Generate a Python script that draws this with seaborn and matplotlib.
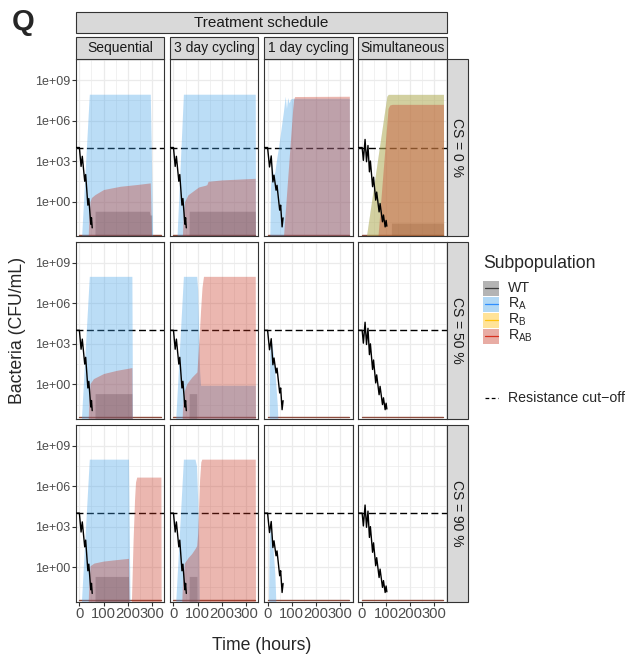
import numpy as np
import pandas as pd
import seaborn as sns
import matplotlib.pyplot as plt
from matplotlib.patches import Rectangle
from matplotlib.ticker import NullFormatter

# ---- data: ribbons as (time h, log10 upper edge); every ribbon starts from the floor
FLOOR = -4.0
BOTTOM_LINE = -2.45
T_END = 338
CUTOFF = 1e4

schedules = ["Sequential", "3 day cycling", "1 day cycling", "Simultaneous"]
cs_levels = ["CS = 0 %", "CS = 50 %", "CS = 90 %"]
pops = ["WT", "RA", "RB", "RAB"]
pop_labels = ["WT", r"R$_\mathregular{A}$", r"R$_\mathregular{B}$", r"R$_\mathregular{AB}$"]

# CS = 0 %
seq0_wt = [(64, -4), (65, -0.72), (289, -0.72), (292, -1.0), (299, -1.0), (300, -4)]
seq0_ra = [(5, -4), (41, 7.95), (293, 7.95), (297, 4.0), (304, -4)]
seq0_rab = [(34, -4), (39, -1.2), (44, 0.0), (50, 0.3), (65, 0.52), (100, 0.89),
            (169, 1.13), (238, 1.26), (293, 1.38), (300, -4)]
d3_0_wt = [(64, -4), (65, -0.72), (338, -0.72), (339, -4)]
d3_0_ra = [(11, -4), (41, 7.95), (338, 7.95), (339, -4)]
d3_0_rab = [(34, -4), (40, -1.0), (46, 0.0), (60, 0.5), (104, 1.08), (131, 1.2),
            (138, 1.25), (143, 1.5), (200, 1.6), (338, 1.72), (339, -4)]
d1_0_ra = [(8, -4), (12, 1.0), (18, 2.8), (24, 1.9), (30, 2.2), (36, 3.0), (45, 4.0),
           (55, 5.3), (65, 6.6), (73, 7.8), (78, 6.9), (83, 7.7), (89, 7.3), (95, 7.6),
           (105, 7.65), (338, 7.65), (339, -4)]
d1_0_rab = [(60, -4), (104, 6.9), (108, 7.6), (112, 7.78), (338, 7.8), (339, -4)]
sim0_wt = [(122, -4), (123, -1.6), (338, -1.6), (339, -4)]
sim0_ra = [(8, -4), (104, 7.8), (110, 7.94), (338, 7.94), (339, -4)]
sim0_rb = [(8, -4), (104, 7.8), (110, 7.94), (338, 7.94), (339, -4)]
sim0_rab = [(61, -4), (109, 6.9), (116, 7.15), (126, 7.2), (338, 7.2), (339, -4)]

# CS = 50 %
seq50_wt = [(64, -4), (65, -0.69), (217, -0.69), (218, -4)]
seq50_ra = [(4, -4), (41, 8.0), (217, 8.0), (220, -4)]
seq50_rab = [(34, -4), (39, -1.2), (44, 0.05), (58, 0.42), (100, 0.8), (155, 1.04),
             (217, 1.24), (219, -4)]
d3_50_wt = [(64, -4), (65, -0.69), (96, -0.69), (97, -4)]
d3_50_ra = [(5, -4), (41, 8.0), (96, 8.0), (100, 7.0), (104, 4.0), (108, 1.0),
            (112, -0.07), (338, -0.07), (339, -4)]
d3_50_rab = [(33, -4), (38, -1.5), (44, -0.5), (55, 0.05), (76, 0.54), (97, 0.92),
             (100, 1.8), (106, 3.5), (112, 5.5), (118, 7.2), (124, 8.0), (338, 8.0), (339, -4)]
d1_50_ra = [(6, -4), (9, 2.5), (13, 3.3), (18, 3.0), (25, 2.0), (32, 0.5), (40, -1.5), (46, -4)]

# CS = 90 %
seq90_wt = [(64, -4), (65, -0.69), (203, -0.69), (204, -4)]
seq90_ra = [(4, -4), (41, 8.0), (203, 8.0), (210, -4)]
seq90_rab = [(34, -4), (39, -1.2), (44, 0.1), (60, 0.3), (100, 0.45), (150, 0.55),
             (203, 0.65), (207, -4), (213, -4), (222, 2.0), (228, 5.0), (232, 6.3),
             (237, 6.67), (337, 6.67), (338, -4)]
d3_90_wt = [(64, -4), (65, -0.69), (97, -0.69), (98, -4)]
d3_90_ra = [(5, -4), (41, 8.0), (89, 8.0), (95, 7.5), (100, 5.0), (104, 2.0), (108, -4)]
d3_90_rab = [(31, -4), (37, -1.3), (45, 0.3), (60, 0.7), (75, 1.0), (89, 1.37), (96, 1.6),
             (100, 2.5), (104, 4.5), (108, 6.5), (113, 7.8), (117, 8.0), (338, 8.0), (339, -4)]
d1_90_ra = [(3, -4), (7, 2.0), (10, 3.0), (15, 2.8), (22, 1.5), (30, -0.5), (37, -4)]

# WT trajectories (time h, log10 CFU/mL)
wt_seq_line = [(-14, 4), (0, 4), (7, 2.6), (12, 3.35), (22, 1.5), (26, 2.0), (35, -0.27),
               (39, 0.22), (47, -1.68), (50, -1.2), (53, -1.95)]
wt_1day_line = [(-14, 4), (0, 4), (8, 2.56), (15, 3.38), (22, 1.45), (26.5, 1.95), (35, 0.84),
                (39, 1.2), (50, -0.64), (54, -0.27), (60, -1.88), (64, -1.21)]
wt_sim_line = [(-14, 4), (2, 4), (7, 3.05), (14, 4.6), (20, 2.95), (26, 4.15), (32, 2.2),
               (36, 3.0), (45, 1.1), (49, 1.8), (58, 0.1), (62, 0.7), (72, -0.77), (76, -0.15),
               (86, -1.5), (90, -1.0), (97, -1.88), (101, -1.4), (104, -1.83)]

panels = {
    (0, 0): {"WT": seq0_wt, "RA": seq0_ra, "RAB": seq0_rab},
    (0, 1): {"WT": d3_0_wt, "RA": d3_0_ra, "RAB": d3_0_rab},
    (0, 2): {"RA": d1_0_ra, "RAB": d1_0_rab},
    (0, 3): {"WT": sim0_wt, "RA": sim0_ra, "RB": sim0_rb, "RAB": sim0_rab},
    (1, 0): {"WT": seq50_wt, "RA": seq50_ra, "RAB": seq50_rab},
    (1, 1): {"WT": d3_50_wt, "RA": d3_50_ra, "RAB": d3_50_rab},
    (1, 2): {"RA": d1_50_ra},
    (1, 3): {},
    (2, 0): {"WT": seq90_wt, "RA": seq90_ra, "RAB": seq90_rab},
    (2, 1): {"WT": d3_90_wt, "RA": d3_90_ra, "RAB": d3_90_rab},
    (2, 2): {"RA": d1_90_ra},
    (2, 3): {},
}
wt_lines = [wt_seq_line, wt_seq_line, wt_1day_line, wt_sim_line]

fill = {"WT": "#2A2A2A", "RA": "#3D9EE8", "RB": "#FFB900", "RAB": "#C6311D"}
alpha = {"WT": 0.3, "RA": 0.35, "RB": 0.35, "RAB": 0.35}
key_line = {"WT": "#3A3A3A", "RA": "#2F8FFF", "RB": "#FFC20E", "RAB": "#D7301F"}

# ---- figure
sns.set_theme(style="white")
plt.rcParams["font.family"] = ["Liberation Sans", "DejaVu Sans"]
plt.rcParams["mathtext.fontset"] = "custom"
plt.rcParams["mathtext.rm"] = "Liberation Sans"

W, H = 627, 654
fig = plt.figure(figsize=(W / 100, H / 100), dpi=100)
fig.patch.set_facecolor("white")

col_left = [76, 170.1, 264.2, 358.3]
pw = 88.3
row_top = [59, 241.8, 424.6]
ph = 177.2


def frac(x, y, w, h):
    return [x / W, 1 - (y + h) / H, w / W, h / H]


for r in range(3):
    for c in range(4):
        ax = fig.add_axes(frac(col_left[c], row_top[r], pw, ph))
        ax.set_yscale("log")
        ax.axhline(CUTOFF, color="black", lw=1.0, ls=(0, (5, 2.5)), zorder=1.5)
        sns.lineplot(x=[0, T_END], y=[10 ** BOTTOM_LINE] * 2, ax=ax, color="#8C4B3C",
                     lw=1.0, estimator=None, zorder=1.8)
        for p in pops:
            rib = panels[(r, c)].get(p)
            if rib is None:
                continue
            t = np.array([a for a, _ in rib], dtype=float)
            hi = np.array([b for _, b in rib], dtype=float)
            ax.fill_between(t, 10 ** FLOOR, 10 ** hi, color=fill[p], alpha=alpha[p],
                            lw=0, zorder=2)
        df = pd.DataFrame(wt_lines[c], columns=["time", "log_cfu"])
        df["cfu"] = 10 ** df["log_cfu"]
        sns.lineplot(data=df, x="time", y="cfu", ax=ax, color="black", lw=1.0,
                     estimator=None, sort=False, zorder=3)
        ax.set_xlabel("")
        ax.set_ylabel("")
        ax.set_xlim(-14, 351)
        ax.set_ylim(10 ** -2.57, 10 ** 10.56)
        ax.set_xticks([0, 100, 200, 300])
        ax.set_xticks([50, 150, 250, 350], minor=True)
        ax.set_yticks([1, 1e3, 1e6, 1e9])
        ax.set_yticks(10 ** np.array([-1.5, 1.5, 4.5, 7.5, 10.5]), minor=True)
        ax.yaxis.set_minor_formatter(NullFormatter())
        ax.xaxis.set_minor_formatter(NullFormatter())
        ax.set_yticklabels(["1e+00", "1e+03", "1e+06", "1e+09"])
        ax.grid(True, which="major", color="#EBEBEB", lw=0.9)
        ax.grid(True, which="minor", color="#EBEBEB", lw=0.5)
        ax.set_axisbelow(True)
        ax.tick_params(which="minor", length=0)
        ax.tick_params(which="major", length=2.6, width=0.8, color="#333333",
                       labelcolor="#4D4D4D", pad=1.5)
        ax.tick_params(axis="y", labelsize=9, left=(c == 0), labelleft=(c == 0))
        ax.tick_params(axis="x", labelsize=10.6, bottom=(r == 2), labelbottom=(r == 2))
        for s in ax.spines.values():
            s.set_color("#333333")
            s.set_linewidth(0.8)

# ---- strips, titles and legend drawn in pixel space
ov = fig.add_axes([0, 0, 1, 1])
ov.set_xlim(0, W)
ov.set_ylim(H, 0)
ov.axis("off")


def strip(x, y, w, h, text, rot=0, size=10):
    ov.add_patch(Rectangle((x, y), w, h, facecolor="#D9D9D9", edgecolor="#333333", lw=0.8))
    ov.text(x + w / 2, y + h / 2, text, ha="center", va="center", rotation=rot,
            fontsize=size, color="#1A1A1A")


strip(col_left[0], 12.3, col_left[3] + pw - col_left[0], 21, "Treatment schedule", size=11)
for c, name in enumerate(schedules):
    strip(col_left[c], 37.3, pw, 21.7, name)
for r, name in enumerate(cs_levels):
    strip(col_left[3] + pw, row_top[r], 21.7, ph, name, rot=-90)

fig.text(12 / W, 1 - 8 / H, "Q", fontsize=21, fontweight="bold", ha="left", va="top")
fig.text((col_left[0] + col_left[3] + pw) / 2 / W, 1 - 645 / H, "Time (hours)",
         ha="center", va="center", fontsize=12.7)
fig.text(18 / W, 1 - 330 / H, "Bacteria (CFU/mL)", ha="center", va="center",
         rotation=90, fontsize=12.7)

ov.text(483.3, 264, "Subpopulation", fontsize=12.7, ha="left", va="center")
key_top = [280.7, 296.7, 312.7, 328.7]
for i, p in enumerate(pops):
    ov.add_patch(Rectangle((483.3, key_top[i]), 16, 15, facecolor=fill[p],
                           alpha=alpha[p] + 0.05, lw=0))
    ov.plot([485, 497.5], [key_top[i] + 7.5] * 2, color=key_line[p], lw=0.9)
    ov.text(508, key_top[i] + 7.5, pop_labels[i], fontsize=10.2, ha="left", va="center")
ov.plot([485, 497.5], [397.7, 397.7], color="black", lw=0.9, ls=(0, (3, 2)))
ov.text(508, 397.7, "Resistance cut\u2212off", fontsize=10.2, ha="left", va="center")

fig.savefig("out.png", dpi=100)
